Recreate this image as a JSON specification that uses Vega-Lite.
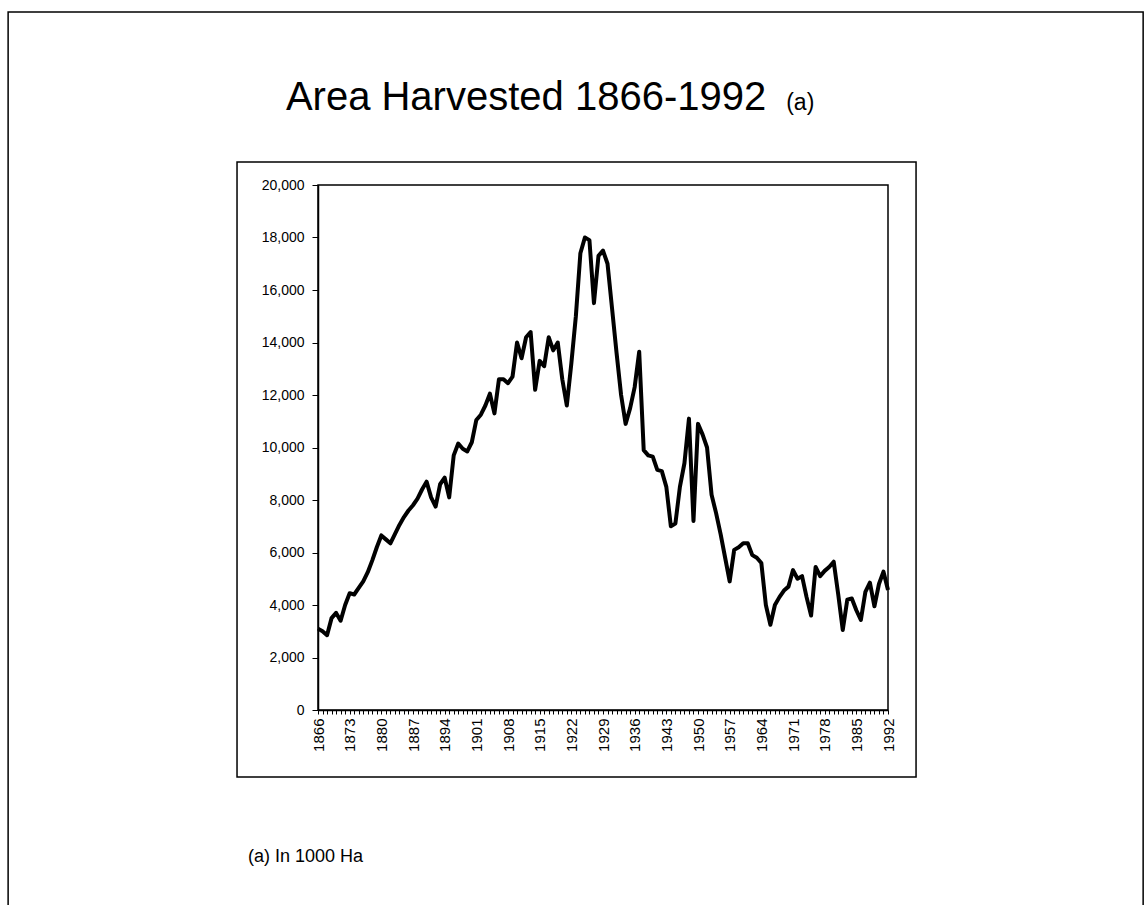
{
  "$schema": "https://vega.github.io/schema/vega-lite/v6.json",
  "autosize": "none",
  "width": 570,
  "height": 525,
  "padding": {"left": 318, "top": 185, "right": 259, "bottom": 195},
  "background": "white",
  "config": {
    "font": "Liberation Sans",
    "view": {"stroke": "black", "strokeWidth": 1.5},
    "axis": {"domainColor": "black", "domainWidth": 1.5, "tickColor": "black", "labelColor": "black", "labelFont": "Liberation Sans", "grid": false}
  },
  "datasets": {
    "area": [
      {"year": 1866, "value": 3100}, {"year": 1867, "value": 3000}, {"year": 1868, "value": 2850}, {"year": 1869, "value": 3500},
      {"year": 1870, "value": 3700}, {"year": 1871, "value": 3400}, {"year": 1872, "value": 4000}, {"year": 1873, "value": 4450},
      {"year": 1874, "value": 4400}, {"year": 1875, "value": 4650}, {"year": 1876, "value": 4900}, {"year": 1877, "value": 5250},
      {"year": 1878, "value": 5700}, {"year": 1879, "value": 6200}, {"year": 1880, "value": 6650}, {"year": 1881, "value": 6500},
      {"year": 1882, "value": 6350}, {"year": 1883, "value": 6700}, {"year": 1884, "value": 7050}, {"year": 1885, "value": 7350},
      {"year": 1886, "value": 7600}, {"year": 1887, "value": 7800}, {"year": 1888, "value": 8050}, {"year": 1889, "value": 8400},
      {"year": 1890, "value": 8700}, {"year": 1891, "value": 8100}, {"year": 1892, "value": 7750}, {"year": 1893, "value": 8600},
      {"year": 1894, "value": 8850}, {"year": 1895, "value": 8100}, {"year": 1896, "value": 9700}, {"year": 1897, "value": 10150},
      {"year": 1898, "value": 9950}, {"year": 1899, "value": 9850}, {"year": 1900, "value": 10200}, {"year": 1901, "value": 11050},
      {"year": 1902, "value": 11250}, {"year": 1903, "value": 11600}, {"year": 1904, "value": 12050}, {"year": 1905, "value": 11300},
      {"year": 1906, "value": 12600}, {"year": 1907, "value": 12600}, {"year": 1908, "value": 12450}, {"year": 1909, "value": 12700},
      {"year": 1910, "value": 14000}, {"year": 1911, "value": 13400}, {"year": 1912, "value": 14200}, {"year": 1913, "value": 14400},
      {"year": 1914, "value": 12200}, {"year": 1915, "value": 13300}, {"year": 1916, "value": 13100}, {"year": 1917, "value": 14200},
      {"year": 1918, "value": 13700}, {"year": 1919, "value": 14000}, {"year": 1920, "value": 12600}, {"year": 1921, "value": 11600},
      {"year": 1922, "value": 13200}, {"year": 1923, "value": 15000}, {"year": 1924, "value": 17400}, {"year": 1925, "value": 18000},
      {"year": 1926, "value": 17900}, {"year": 1927, "value": 15500}, {"year": 1928, "value": 17300}, {"year": 1929, "value": 17500},
      {"year": 1930, "value": 17000}, {"year": 1931, "value": 15300}, {"year": 1932, "value": 13600}, {"year": 1933, "value": 12000},
      {"year": 1934, "value": 10900}, {"year": 1935, "value": 11500}, {"year": 1936, "value": 12300}, {"year": 1937, "value": 13650},
      {"year": 1938, "value": 9900}, {"year": 1939, "value": 9700}, {"year": 1940, "value": 9650}, {"year": 1941, "value": 9150},
      {"year": 1942, "value": 9100}, {"year": 1943, "value": 8500}, {"year": 1944, "value": 7000}, {"year": 1945, "value": 7100},
      {"year": 1946, "value": 8500}, {"year": 1947, "value": 9400}, {"year": 1948, "value": 11100}, {"year": 1949, "value": 7200},
      {"year": 1950, "value": 10900}, {"year": 1951, "value": 10500}, {"year": 1952, "value": 10000}, {"year": 1953, "value": 8200},
      {"year": 1954, "value": 7500}, {"year": 1955, "value": 6700}, {"year": 1956, "value": 5800}, {"year": 1957, "value": 4900},
      {"year": 1958, "value": 6100}, {"year": 1959, "value": 6200}, {"year": 1960, "value": 6350}, {"year": 1961, "value": 6350},
      {"year": 1962, "value": 5900}, {"year": 1963, "value": 5800}, {"year": 1964, "value": 5600}, {"year": 1965, "value": 4000},
      {"year": 1966, "value": 3250}, {"year": 1967, "value": 4000}, {"year": 1968, "value": 4300}, {"year": 1969, "value": 4550},
      {"year": 1970, "value": 4700}, {"year": 1971, "value": 5330}, {"year": 1972, "value": 5000}, {"year": 1973, "value": 5100},
      {"year": 1974, "value": 4300}, {"year": 1975, "value": 3600}, {"year": 1976, "value": 5450}, {"year": 1977, "value": 5100},
      {"year": 1978, "value": 5300}, {"year": 1979, "value": 5450}, {"year": 1980, "value": 5650}, {"year": 1981, "value": 4400},
      {"year": 1982, "value": 3050}, {"year": 1983, "value": 4200}, {"year": 1984, "value": 4250}, {"year": 1985, "value": 3800},
      {"year": 1986, "value": 3430}, {"year": 1987, "value": 4500}, {"year": 1988, "value": 4850}, {"year": 1989, "value": 3950},
      {"year": 1990, "value": 4800}, {"year": 1991, "value": 5270}, {"year": 1992, "value": 4570}
    ],
    "texts": [
      {"label": "Area Harvested 1866-1992", "role": "title"},
      {"label": "(a)", "role": "sup"},
      {"label": "(a) In 1000 Ha", "role": "note"}
    ]
  },
  "layer": [
    {
      "data": {"name": "area"},
      "mark": {"type": "line", "color": "black", "strokeWidth": 4, "strokeJoin": "round"},
      "encoding": {
        "x": {
          "field": "year", "type": "quantitative",
          "scale": {"domain": [1866, 1992], "nice": false, "zero": false},
          "axis": {
            "title": null, "format": "d", "labelAngle": 270, "labelFontSize": 15, "tickSize": 4, "labelPadding": 4,
            "labelOverlap": false, "labelFlush": false, "tickCount": 500,
            "values": [1866,1867,1868,1869,1870,1871,1872,1873,1874,1875,1876,1877,1878,1879,1880,1881,1882,1883,1884,1885,1886,1887,1888,1889,1890,1891,1892,1893,1894,1895,1896,1897,1898,1899,1900,1901,1902,1903,1904,1905,1906,1907,1908,1909,1910,1911,1912,1913,1914,1915,1916,1917,1918,1919,1920,1921,1922,1923,1924,1925,1926,1927,1928,1929,1930,1931,1932,1933,1934,1935,1936,1937,1938,1939,1940,1941,1942,1943,1944,1945,1946,1947,1948,1949,1950,1951,1952,1953,1954,1955,1956,1957,1958,1959,1960,1961,1962,1963,1964,1965,1966,1967,1968,1969,1970,1971,1972,1973,1974,1975,1976,1977,1978,1979,1980,1981,1982,1983,1984,1985,1986,1987,1988,1989,1990,1991,1992],
            "labelExpr": "(datum.value - 1866) % 7 == 0 ? datum.label : ''"
          }
        },
        "y": {
          "field": "value", "type": "quantitative",
          "scale": {"domain": [0, 20000], "nice": false},
          "axis": {"title": null, "format": ",d", "values": [0,2000,4000,6000,8000,10000,12000,14000,16000,18000,20000], "labelFontSize": 14, "tickSize": 6, "labelPadding": 8}
        }
      }
    },
    {
      "data": {"values": [{"frame": "chart"}]},
      "mark": {"type": "rect", "fill": null, "stroke": "black", "strokeWidth": 1.5},
      "encoding": {
        "x": {"datum": 1848.1, "type": "quantitative"},
        "x2": {"datum": 1998.2},
        "y": {"datum": 20876, "type": "quantitative"},
        "y2": {"datum": -2552}
      }
    },
    {
      "data": {"values": [{"frame": "page"}]},
      "mark": {"type": "rect", "fill": null, "stroke": "black", "strokeWidth": 1.5},
      "encoding": {
        "x": {"datum": 1797.5, "type": "quantitative"},
        "x2": {"datum": 2048.4},
        "y": {"datum": 26590, "type": "quantitative"},
        "y2": {"datum": -9000}
      }
    },
    {
      "data": {"name": "texts"},
      "transform": [{"filter": "datum.role == 'title'"}],
      "mark": {"type": "text", "align": "left", "baseline": "alphabetic", "fontSize": 40, "font": "Liberation Sans", "color": "black"},
      "encoding": {
        "text": {"field": "label"},
        "x": {"datum": 1858.9, "type": "quantitative"},
        "y": {"datum": 22857, "type": "quantitative"}
      }
    },
    {
      "data": {"name": "texts"},
      "transform": [{"filter": "datum.role == 'sup'"}],
      "mark": {"type": "text", "align": "left", "baseline": "alphabetic", "fontSize": 23, "font": "Liberation Sans", "color": "black"},
      "encoding": {
        "text": {"field": "label"},
        "x": {"datum": 1969.5, "type": "quantitative"},
        "y": {"datum": 22857, "type": "quantitative"}
      }
    },
    {
      "data": {"name": "texts"},
      "transform": [{"filter": "datum.role == 'note'"}],
      "mark": {"type": "text", "align": "left", "baseline": "alphabetic", "fontSize": 18, "font": "Liberation Sans", "color": "black"},
      "encoding": {
        "text": {"field": "label"},
        "x": {"datum": 1850.5, "type": "quantitative"},
        "y": {"datum": -5790, "type": "quantitative"}
      }
    }
  ]
}
